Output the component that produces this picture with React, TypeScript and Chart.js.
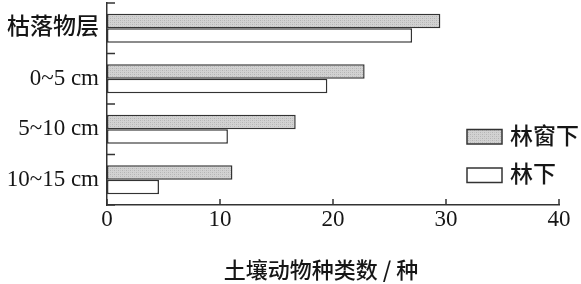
import React, { useEffect, useRef } from "react";
import { Chart, registerables } from "chart.js";

Chart.register(...registerables);

const categories = ["枯落物层", "0~5 cm", "5~10 cm", "10~15 cm"];
const seriesNames = ["林窗下", "林下"];
const gapValues = [29.5, 22.8, 16.7, 11.1];
const underValues = [27.0, 19.5, 10.7, 4.6];
const xTickValues = [0, 10, 20, 30, 40];
const xAxisTitle = "土壤动物种类数 / 种";

const FONT = "'Liberation Serif', 'Noto Sans CJK SC', serif";
const INK = "#161616";
const EDGE = "#333333";

function makePattern(): CanvasPattern | string {
  const c = document.createElement("canvas");
  c.width = 4;
  c.height = 4;
  const g = c.getContext("2d");
  if (!g) return "#cccccc";
  g.fillStyle = "#d2d2d2";
  g.fillRect(0, 0, 4, 4);
  g.fillStyle = "#b4b4b4";
  g.fillRect(0, 0, 1, 1);
  g.fillRect(2, 2, 1, 1);
  g.fillStyle = "#c2c2c2";
  g.fillRect(2, 0, 1, 1);
  g.fillRect(0, 2, 1, 1);
  const p = g.createPattern(c, "repeat");
  return p || "#cccccc";
}

export default function App() {
  const ref = useRef<HTMLCanvasElement | null>(null);

  useEffect(() => {
    document.body.style.margin = "0";
    const canvas = ref.current;
    if (!canvas) return;
    const pattern = makePattern();

    const extras = {
      id: "extras",
      afterDraw(chart: any) {
        const ctx = chart.ctx as CanvasRenderingContext2D;
        const area = chart.chartArea;
        const xs = chart.scales.x;
        const ys = chart.scales.y;
        ctx.save();
        ctx.strokeStyle = EDGE;
        ctx.lineWidth = 1.5;
        // y-axis ticks at category boundaries, pointing inward
        const half = (ys.getPixelForValue(1) - ys.getPixelForValue(0)) / 2;
        for (let i = 0; i <= categories.length; i++) {
          const y = ys.getPixelForValue(i) - half;
          ctx.beginPath();
          ctx.moveTo(area.left, y);
          ctx.lineTo(area.left + 8, y);
          ctx.stroke();
        }
        // x-axis ticks pointing upward
        xTickValues.forEach((v) => {
          const x = xs.getPixelForValue(v);
          ctx.beginPath();
          ctx.moveTo(x, area.bottom);
          ctx.lineTo(x, area.bottom - 6);
          ctx.stroke();
        });
        // x-axis title
        ctx.fillStyle = INK;
        ctx.font = "500 22px 'Noto Sans CJK SC', " + FONT;
        ctx.textAlign = "center";
        ctx.textBaseline = "middle";
        ctx.fillText(xAxisTitle, (area.left + area.right) / 2 - 12, 270);
        // legend
        const fills = [pattern, "#ffffff"];
        const boxX = 467;
        const boxTops = [129.5, 168];
        seriesNames.forEach((name, i) => {
          ctx.fillStyle = fills[i] as any;
          ctx.fillRect(boxX, boxTops[i], 35, 14.5);
          ctx.strokeStyle = EDGE;
          ctx.lineWidth = 1.5;
          ctx.strokeRect(boxX, boxTops[i], 35, 14.5);
          ctx.fillStyle = INK;
          ctx.font = "500 23px " + FONT;
          ctx.textAlign = "left";
          ctx.textBaseline = "middle";
          ctx.fillText(name, 510, boxTops[i] + 8);
        });
        ctx.restore();
      },
    };

    const chart = new Chart(canvas, {
      type: "bar",
      data: {
        labels: categories,
        datasets: [
          {
            label: seriesNames[0],
            data: gapValues,
            backgroundColor: pattern as any,
            borderColor: EDGE,
            borderWidth: 1.5,
            borderSkipped: false,
          },
          {
            label: seriesNames[1],
            data: underValues,
            backgroundColor: "#ffffff",
            borderColor: EDGE,
            borderWidth: 1.5,
            borderSkipped: false,
          },
        ],
      },
      options: {
        indexAxis: "y",
        animation: false,
        responsive: false,
        devicePixelRatio: 1,
        layout: { padding: { top: 3, right: 22, left: 0, bottom: 0 } },
        datasets: {
          bar: { categoryPercentage: 0.575, barPercentage: 1 },
        },
        plugins: {
          legend: { display: false },
          tooltip: { enabled: false },
          title: { display: false },
        },
        scales: {
          x: {
            min: 0,
            max: 40,
            afterBuildTicks: (scale: any) => {
              scale.ticks = xTickValues.map((v) => ({ value: v }));
            },
            afterFit: (scale: any) => {
              scale.height = 79;
              scale.paddingLeft = 0;
              scale.paddingRight = 0;
            },
            ticks: {
              font: { family: FONT, size: 23, weight: "500" },
              color: INK,
              padding: 1,
              maxRotation: 0,
            },
            grid: { display: false, drawTicks: false },
            border: { display: true, color: EDGE, width: 1.5 },
          },
          y: {
            afterFit: (scale: any) => {
              scale.width = 107;
              scale.paddingTop = 0;
              scale.paddingBottom = 0;
            },
            ticks: {
              font: { family: FONT, size: 23, weight: "500" },
              color: INK,
              padding: 8,
            },
            grid: { display: false, drawTicks: false },
            border: { display: true, color: EDGE, width: 1.5 },
          },
        },
      },
      plugins: [extras],
    } as any);

    return () => {
      chart.destroy();
    };
  }, []);

  return (
    <div style={{ width: 581, height: 284, background: "#ffffff" }}>
      <canvas ref={ref} width={581} height={284} style={{ display: "block" }} />
    </div>
  );
}
